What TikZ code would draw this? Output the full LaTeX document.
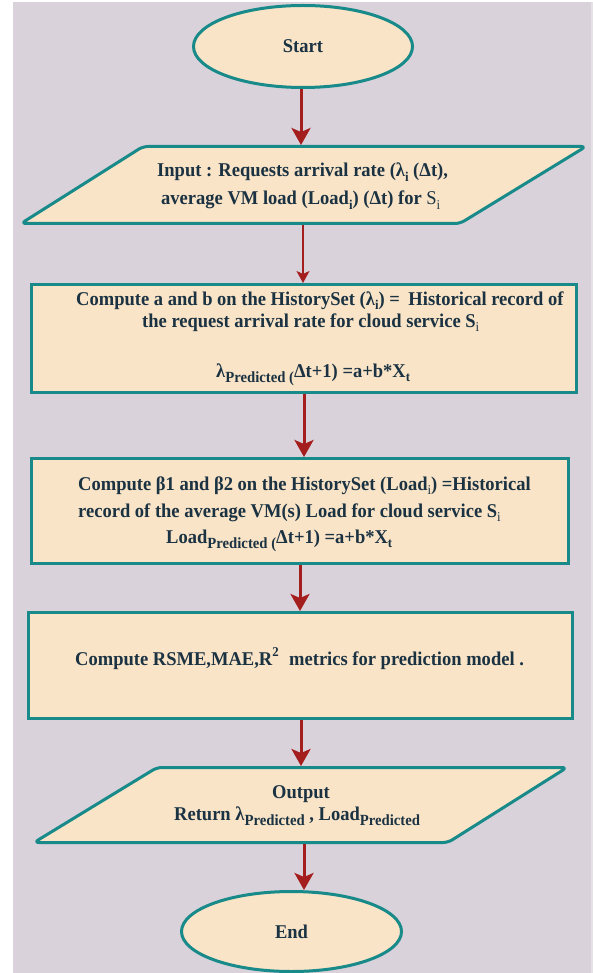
\documentclass[tikz,border=0pt]{standalone}
\usepackage{fontspec}
\setmainfont{Liberation Serif}[FakeStretch=0.95]
\usetikzlibrary{shapes.geometric,arrows.meta}

\definecolor{pagebg}{HTML}{D9D2DA}
\definecolor{edgeline}{HTML}{E4E2E4}
\definecolor{peach}{HTML}{FAE4C7}
\definecolor{tealline}{HTML}{178A89}
\definecolor{arrowred}{HTML}{A51E1E}
\definecolor{ink}{HTML}{1A3242}

% lowered and raised small text for indices
\newcommand{\lowtxt}[1]{\raisebox{-0.3em}{\fontsize{15.5}{15.5}\selectfont #1}}
\newcommand{\lowidx}[1]{\raisebox{-0.25em}{\fontsize{13.5}{13.5}\selectfont #1}}
\newcommand{\hightxt}[1]{\raisebox{0.42em}{\fontsize{13.5}{13.5}\selectfont #1}}

\begin{document}
\begin{tikzpicture}[x=1pt,y=-1pt,
  txtline/.style={inner sep=0pt, font=\fontsize{19.5}{23}\selectfont\bfseries, text=ink},
  procbox/.style={rectangle, draw=tealline, fill=peach, line width=3pt, inner sep=0pt},
  termnode/.style={ellipse, draw=tealline, fill=peach, line width=3pt, inner sep=0pt,
    font=\fontsize{19.5}{23}\selectfont\bfseries, text=ink},
  iobox/.style={draw=tealline, fill=peach, line width=3pt, rounded corners=5pt, line join=round},
  flowarrow/.style={draw=arrowred, line width=3pt,
    -{Stealth[length=17pt,width=19pt,inset=4pt]}},
  thinarrow/.style={draw=arrowred, line width=1.5pt,
    -{Stealth[length=12pt,width=13pt,inset=3pt]}}]

% page and panel
\useasboundingbox (0,0) rectangle (593,973);
\fill[white] (0,0) rectangle (593,973);
\fill[pagebg] (13,2) rectangle (591,973);
\fill[edgeline] (591,2) rectangle (593,973);

% terminals
\node[termnode, minimum width=219pt, minimum height=82pt] (start) at (303,46.5) {Start};
\node[termnode, minimum width=220pt, minimum height=80pt] (end) at (291.5,931.5) {End};

% input parallelogram
\draw[iobox] (143,146.5) -- (586,146.5) -- (460,223.5) -- (21,223.5) -- cycle;
\coordinate (inTop) at (301,145);
\coordinate (inBot) at (303,225);
\node[txtline, anchor=base west] (in1) at (157,177)
  {Input : Requests arrival rate (λ\lowidx{i} (Δt),};
\node[txtline, anchor=base west] (in2) at (161,205)
  {average VM load (Load\lowidx{i}) (Δt) for {\mdseries S\lowidx{i}}};

% processing boxes
\node[procbox, minimum width=545pt, minimum height=108pt] (hist) at (304,338.5) {};
\node[txtline, anchor=base west] (h1) at (76,305)
  {Compute a and b on the HistorySet (λ\lowidx{i}) =\hspace{0.2em} Historical record of};
\node[txtline, anchor=base west] (h2) at (142,327)
  {the request arrival rate for cloud service S\lowidx{\mdseries i}};
\node[txtline, anchor=base west] (h3) at (216,377)
  {λ\lowtxt{Predicted (}Δt+1) =a+b*X\lowidx{t}};

\node[procbox, minimum width=537pt, minimum height=105pt] (load) at (300,511) {};
\node[txtline, anchor=base west] (l1) at (78,490)
  {Compute β1 and β2 on the HistorySet (Load\lowidx{\mdseries i}) =Historical};
\node[txtline, anchor=base west] (l2) at (78,517)
  {record of the average VM(s) Load for cloud service S\lowidx{\mdseries i}};
\node[txtline, anchor=base west] (l3) at (166,543)
  {Load\lowtxt{Predicted (}Δt+1) =a+b*X\lowidx{t}};

\node[procbox, minimum width=544pt, minimum height=106pt] (metric) at (300.5,665.5) {};
\node[txtline, anchor=base west] (m1) at (75,665)
  {Compute RSME,MAE,R\hightxt{2}\hspace{0.3em} metrics for prediction model .};

% output parallelogram
\draw[iobox] (157,767.5) -- (567,767.5) -- (448,842.5) -- (34,842.5) -- cycle;
\coordinate (outTop) at (301,766);
\coordinate (outBot) at (304,844);
\node[txtline, anchor=base west] (o1) at (272,798) {Output};
\node[txtline, anchor=base west] (o2) at (174,820)
  {Return λ\lowtxt{Predicted} , Load\lowtxt{Predicted}};

% connectors
\draw[flowarrow] (inTop |- start.south) -- (inTop);
\draw[thinarrow] (inBot) -- (inBot |- hist.north);
\draw[flowarrow] (hist.south) -- (hist.south |- load.north);
\draw[flowarrow] (load.south) -- (load.south |- metric.north);
\draw[flowarrow] (outTop |- metric.south) -- (outTop);
\draw[flowarrow] (outBot) -- (outBot |- end.north);
\end{tikzpicture}
\end{document}
